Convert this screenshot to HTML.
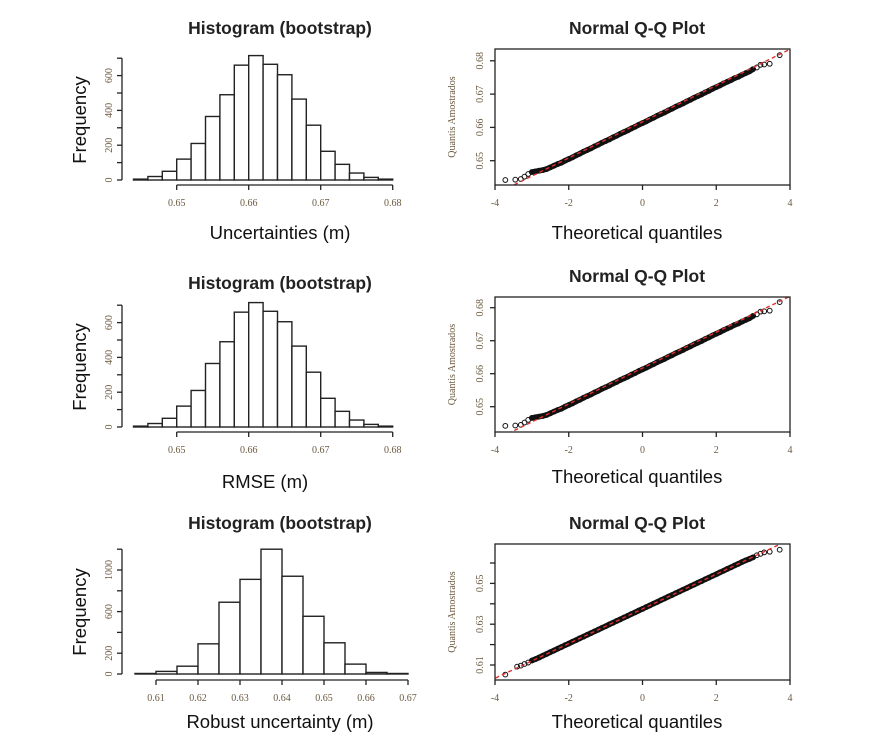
<!DOCTYPE html>
<html><head><meta charset="utf-8"><style>
body{margin:0;background:#fff;}
svg{display:block;}
.ttl{font:bold 17.5px "Liberation Sans",sans-serif;fill:#222;}
.axt{font:18.5px "Liberation Sans",sans-serif;fill:#111;}
.tk{font:10px "Liberation Serif",serif;fill:#6b5a40;}
.qa{font:10px "Liberation Serif",serif;fill:#6b5a40;}
</style></head><body>
<svg id="c" width="872" height="742" viewBox="0 0 872 742" xmlns="http://www.w3.org/2000/svg"></svg>
<script>
// ---- data ----
const h1Breaks = [0.644,0.646,0.648,0.650,0.652,0.654,0.656,0.658,0.660,0.662,0.664,0.666,0.668,0.670,0.672,0.674,0.676,0.678,0.680];
const h1Counts = [5,20,50,120,210,365,490,660,715,665,605,465,315,165,90,40,15,5];
const h2Counts = [5,20,50,120,210,365,490,660,715,665,605,465,315,165,90,40,15,5];
const h3Breaks = [0.605,0.610,0.615,0.620,0.625,0.630,0.635,0.640,0.645,0.650,0.655,0.660,0.665,0.670];
const h3Counts = [5,25,75,290,690,910,1200,940,555,300,95,15,5];
const h1YTicks = [0,100,200,300,400,500,600,700];
const h1YLabels = ["0","","200","","400","","600",""];
const h1XTicks = [0.65,0.66,0.67,0.68];
const h3YTicks = [0,200,400,600,800,1000,1200];
const h3YLabels = ["0","200","","600","","1000",""];
const h3XTicks = [0.61,0.62,0.63,0.64,0.65,0.66,0.67];
const qqXTicks = [-4,-2,0,2,4];
const qq1YTicks = [0.65,0.66,0.67,0.68];
const qq3YTicks = [0.61,0.62,0.63,0.64,0.65,0.66];
const qq3YLabels = ["0.61","","0.63","","0.65",""];
const qq1X = [-3.72,-3.45,-3.3,-3.2,-3.1,-3.0,-2.9,-2.8,-2.7,-2.6,-2.5,-2.4,-2.3,-2.2,-2.1,-2.0,-1.9,-1.8,-1.7,-1.6,-1.5,-1.4,-1.3,-1.2,-1.1,-1.0,-0.9,-0.8,-0.7,-0.6,-0.5,-0.4,-0.3,-0.2,-0.1,0,0.1,0.2,0.3,0.4,0.5,0.6,0.7,0.8,0.9,1.0,1.1,1.2,1.3,1.4,1.5,1.6,1.7,1.8,1.9,2.0,2.1,2.2,2.3,2.4,2.5,2.6,2.7,2.8,2.9,3.0,3.1,3.2,3.3,3.45,3.72];
const qq1Y = [0.6442,0.6443,0.6445,0.6452,0.6460,0.6466,0.6468,0.6470,0.6472,0.6475,0.6480,0.6485,0.6490,0.6494,0.6500,0.6505,0.6510,0.6516,0.6521,0.6527,0.6532,0.6537,0.6543,0.6548,0.6554,0.6559,0.6564,0.6570,0.6575,0.6581,0.6586,0.6591,0.6597,0.6602,0.6608,0.6613,0.6618,0.6624,0.6629,0.6635,0.6640,0.6645,0.6651,0.6656,0.6662,0.6667,0.6672,0.6678,0.6683,0.6689,0.6694,0.6699,0.6705,0.6710,0.6716,0.6721,0.6726,0.6732,0.6737,0.6742,0.6748,0.6752,0.6758,0.6763,0.6768,0.6775,0.6780,0.6788,0.6789,0.6791,0.6817];
const qq1Line = [0.6617,0.00544];
const qq3X = [-3.72,-3.4,-3.3,-3.2,-3.1,-3.0,-2.9,-2.8,-2.7,-2.6,-2.5,-2.4,-2.3,-2.2,-2.1,-2.0,-1.9,-1.8,-1.7,-1.6,-1.5,-1.4,-1.3,-1.2,-1.1,-1.0,-0.9,-0.8,-0.7,-0.6,-0.5,-0.4,-0.3,-0.2,-0.1,0,0.1,0.2,0.3,0.4,0.5,0.6,0.7,0.8,0.9,1.0,1.1,1.2,1.3,1.4,1.5,1.6,1.7,1.8,1.9,2.0,2.1,2.2,2.3,2.4,2.5,2.6,2.7,2.8,2.9,3.0,3.1,3.2,3.3,3.45,3.72];
const qq3Y = [0.6053,0.6092,0.6097,0.6105,0.6112,0.6122,0.6129,0.6137,0.6146,0.6154,0.6163,0.6171,0.6180,0.6188,0.6197,0.6205,0.6214,0.6222,0.6231,0.6239,0.6248,0.6256,0.6265,0.6273,0.6282,0.6290,0.6299,0.6307,0.6316,0.6324,0.6333,0.6341,0.6350,0.6358,0.6367,0.6375,0.6384,0.6392,0.6401,0.6409,0.6418,0.6426,0.6435,0.6443,0.6452,0.6460,0.6469,0.6477,0.6486,0.6494,0.6503,0.6511,0.6520,0.6528,0.6537,0.6545,0.6554,0.6562,0.6571,0.6579,0.6588,0.6596,0.6605,0.6613,0.6620,0.6628,0.6638,0.6645,0.6652,0.6655,0.6665];
const qq3Line = [0.6375,0.0085];

const NS='http://www.w3.org/2000/svg';
const svg=document.getElementById('c');
function mk(tag,attrs,parent){const e=document.createElementNS(NS,tag);for(const k in attrs)e.setAttribute(k,attrs[k]);(parent||svg).appendChild(e);return e;}
function txt(s,x,y,cls,parent,rot){const t=mk('text',{x:x,y:y,class:cls,'text-anchor':'middle'},parent);if(rot)t.setAttribute('transform','rotate(-90 '+x+' '+y+')');t.textContent=s;return t;}
function lin(x1,y1,x2,y2,parent,extra){const a={x1:x1,y1:y1,x2:x2,y2:y2,stroke:'#222','stroke-width':1.3};for(const k in extra)a[k]=extra[k];return mk('line',a,parent);}

function hist(cfg){
  const g=mk('g',{});
  
  
  const sx=v=>cfg.x0+(v-cfg.xv0)*cfg.xs;
  const sy=v=>cfg.y0-v*cfg.ys;
  const t=txt('Histogram (bootstrap)',cfg.tx,cfg.ty,'ttl',g);
  
  for(let i=0;i<cfg.counts.length;i++){
    const x1=sx(cfg.breaks[i]),x2=sx(cfg.breaks[i+1]),y=sy(cfg.counts[i]);
    const r=mk('rect',{x:x1,y:y,width:x2-x1,height:cfg.y0-y,fill:'#fff',stroke:'#222','stroke-width':1.4},g);
    
    
  }
  const yt=cfg.yticks;
  lin(cfg.ax,sy(yt[0]),cfg.ax,sy(yt[yt.length-1]),g);
  yt.forEach((v,i)=>{lin(cfg.ax-5,sy(v),cfg.ax,sy(v),g);if(cfg.ylabels[i]){const l=txt(cfg.ylabels[i],cfg.ax-10,sy(v),'tk',g,true);}});
  const xt=cfg.xticks;
  lin(sx(xt[0]),cfg.xay,sx(xt[xt.length-1]),cfg.xay,g);
  xt.forEach(v=>{lin(sx(v),cfg.xay,sx(v),cfg.xay+5,g);const l=txt(v.toFixed(2),sx(v),cfg.xay+21,'tk',g);});
  const yl=txt('Frequency',86,cfg.fy,'axt',g,true);
  
  const xl=txt(cfg.xtitle,cfg.xtx,cfg.xty,'axt',g);
  
}

function qq(cfg){
  const g=mk('g',{});
  
  
  const L=495,R=790;
  const sx=v=>L+(v+4)*(R-L)/8;
  const sy=v=>cfg.yref-(v-cfg.vref)*cfg.ys;
  const t=txt('Normal Q-Q Plot',637,cfg.ty,'ttl',g);
  
  const cp=mk('clipPath',{id:cfg.name+'-clip'},g);
  mk('rect',{x:L,y:cfg.top,width:R-L,height:cfg.bot-cfg.top},cp);
  const pg=mk('g',{'clip-path':'url(#'+cfg.name+'-clip)'},g);
  const band=mk('polyline',{points:cfg.xs.slice(5,-5).map((x,i)=>sx(x)+','+sy(cfg.ys_[i+5])).join(' '),fill:'none',stroke:'#111','stroke-width':5.5,'stroke-linecap':'round'},pg);
  
  cfg.xs.forEach((x,i)=>{const c=mk('circle',{cx:sx(x),cy:sy(cfg.ys_[i]),r:2.4,fill:'none',stroke:'#111','stroke-width':1},pg);
    });
  const ql=mk('line',{x1:sx(-4.5),y1:sy(cfg.line[0]+cfg.line[1]*-4.5),x2:sx(4.5),y2:sy(cfg.line[0]+cfg.line[1]*4.5),stroke:'#e03030','stroke-width':1.4,'stroke-dasharray':'4,3'},pg);
  
  const box=mk('rect',{x:L,y:cfg.top,width:R-L,height:cfg.bot-cfg.top,fill:'none',stroke:'#222','stroke-width':1.3},g);
  
  qqXTicks.forEach(v=>{lin(sx(v),cfg.bot,sx(v),cfg.bot+5,g);const l=txt(String(v),sx(v),cfg.bot+21,'tk',g);});
  cfg.yticks.forEach((v,i)=>{lin(L-5,sy(v),L,sy(v),g);const s=cfg.ylabels[i];if(s){const l=txt(s,L-12,sy(v),'tk',g,true);}});
  const ya=txt('Quantis Amostrados',455,(cfg.top+cfg.bot)/2,'qa',g,true);
  
  const xa=txt('Theoretical quantiles',637,cfg.xty,'axt',g);
  
}

hist({name:'histogram-uncertainties',breaks:h1Breaks,counts:h1Counts,x0:176.7,xv0:0.65,xs:7200,y0:180,ys:0.174,ax:122,yticks:h1YTicks,ylabels:h1YLabels,xticks:h1XTicks,xay:185,tx:280,ty:34,fy:120,xtitle:'Uncertainties (m)',xtx:280,xty:239});
hist({name:'histogram-rmse',breaks:h1Breaks,counts:h2Counts,x0:176.7,xv0:0.65,xs:7200,y0:427,ys:0.174,ax:122,yticks:h1YTicks,ylabels:h1YLabels,xticks:h1XTicks,xay:432,tx:280,ty:289,fy:367,xtitle:'RMSE (m)',xtx:265,xty:488});
hist({name:'histogram-robust',breaks:h3Breaks,counts:h3Counts,x0:156,xv0:0.61,xs:4200,y0:674,ys:0.104,ax:122,yticks:h3YTicks,ylabels:h3YLabels,xticks:h3XTicks,xay:680,tx:280,ty:529,fy:612,xtitle:'Robust uncertainty (m)',xtx:280,xty:728});

qq({name:'qq-plot-uncertainties',xs:qq1X,ys_:qq1Y,line:qq1Line,top:49,bot:185,yref:160.7,vref:0.65,ys:3330,yticks:qq1YTicks,ylabels:['0.65','0.66','0.67','0.68'],ty:34,xty:239});
qq({name:'qq-plot-rmse',xs:qq1X,ys_:qq1Y,line:qq1Line,top:297,bot:432,yref:406.7,vref:0.65,ys:3300,yticks:qq1YTicks,ylabels:['0.65','0.66','0.67','0.68'],ty:282,xty:483});
qq({name:'qq-plot-robust',xs:qq3X,ys_:qq3Y,line:qq3Line,top:544,bot:680,yref:665,vref:0.61,ys:2040,yticks:qq3YTicks,ylabels:qq3YLabels,ty:529,xty:728});
</script>
</body></html>
